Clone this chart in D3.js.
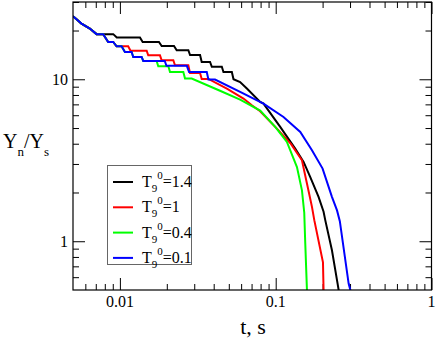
<!DOCTYPE html>
<html><head><meta charset="utf-8">
<script src="https://cdn.jsdelivr.net/npm/d3@7"></script>
<style>body{margin:0;background:#fff}svg{display:block}</style>
</head><body><svg id="c" width="436" height="340"></svg>
<script>
// ---- data ----
const xMajorTicks = [0.01, 0.1, 1];
const xTickLabels = ["0.01", "0.1", "1"];
const xMinorTicks = [0.006,0.007,0.008,0.009,0.02,0.03,0.04,0.05,0.06,0.07,0.08,0.09,0.2,0.3,0.4,0.5,0.6,0.7,0.8,0.9];
const yMajorTicks = [1, 10];
const yTickLabels = ["1", "10"];
const yMinorTicks = [0.6,0.7,0.8,0.9,2,3,4,5,6,7,8,9,20,30];
const seriesNames = ["1.4", "1", "0.4", "0.1"];
const seriesColors = ["#000000", "#ff0000", "#00ff00", "#0000ff"];

const serT14 = [[0.005,24.5],[0.00567,22.07],[0.00641,20.56],[0.00708,19.0],[0.00906,19.0],[0.00955,18.09],[0.01345,18.09],[0.0140,16.99],[0.01781,16.99],[0.01854,16.05],[0.02224,16.05],[0.02315,15.1],[0.0275,15.1],[0.0282,14.1],[0.0327,14.1],[0.0335,12.8],[0.0379,12.8],[0.0389,11.95],[0.0451,11.95],[0.0462,11.1],[0.0523,11.1],[0.0536,10.0],[0.0591,9.62],[0.0653,8.76],[0.0795,7.24],[0.0835,7.08],[0.1069,5.08],[0.1334,3.73],[0.151,3.09],[0.1667,2.49],[0.1884,1.88],[0.2029,1.52],[0.208,1.35],[0.2296,0.88],[0.2496,0.548],[0.2535,0.5],[0.256,0.47]];
const serT10 = [[0.005,24.5],[0.00567,22.07],[0.00641,20.56],[0.00708,19.0],[0.00781,19.0],[0.00841,16.99],[0.00906,16.99],[0.00952,15.98],[0.0113,15.98],[0.0117,15.0],[0.01485,15.0],[0.0152,14.06],[0.01808,14.06],[0.01854,13.1],[0.02202,13.1],[0.02258,12.2],[0.02749,12.2],[0.02818,10.95],[0.03269,10.95],[0.0335,10.05],[0.03697,10.05],[0.0486,8.76],[0.0621,7.6],[0.0703,6.91],[0.0795,6.35],[0.1018,4.96],[0.1255,3.98],[0.1474,3.16],[0.1587,2.27],[0.1709,1.63],[0.1769,1.35],[0.2011,0.74],[0.2029,0.5],[0.203,0.45]];
const serT04 = [[0.005,24.5],[0.00567,22.07],[0.00641,20.56],[0.00708,19.0],[0.00781,19.0],[0.00841,16.99],[0.00906,16.99],[0.00952,15.98],[0.01025,15.98],[0.01077,14.74],[0.01189,14.74],[0.01218,13.73],[0.01379,13.73],[0.01412,12.97],[0.0172,12.97],[0.01763,12.03],[0.02046,12.03],[0.02097,11.09],[0.02553,11.09],[0.02618,10.1],[0.0289,10.1],[0.0439,8.5],[0.0591,7.49],[0.0795,6.4],[0.0993,5.08],[0.118,4.1],[0.1369,2.87],[0.1474,2.06],[0.1525,1.5],[0.1548,0.97],[0.1587,0.5],[0.159,0.45]];
const serT01 = [[0.005,24.5],[0.00567,22.07],[0.00641,20.56],[0.00708,19.0],[0.00781,19.0],[0.00841,16.99],[0.00906,16.99],[0.00952,15.98],[0.01025,15.98],[0.01077,14.74],[0.01189,14.74],[0.01218,13.73],[0.01379,13.73],[0.01412,12.97],[0.0194,12.97],[0.0199,12.1],[0.0269,12.1],[0.0278,11.09],[0.0361,11.09],[0.037,9.96],[0.0408,9.96],[0.0591,8.35],[0.0835,7.08],[0.1122,5.85],[0.1438,4.73],[0.1709,3.65],[0.2,2.81],[0.2296,1.88],[0.2475,1.55],[0.258,1.33],[0.2939,0.548],[0.3013,0.5],[0.303,0.47]];
const allSeries = [serT14, serT10, serT04, serT01];

// ---- layout ----
const L = 73, R = 431.5, T = 2, B = 290;
const font = "'Liberation Serif'";
const svg = d3.select("#c");
const x = d3.scaleLog().domain([0.005, 1]).range([L, R]);
const y = d3.scaleLog().domain([0.5, 30]).range([B, T]);

svg.append("defs").append("clipPath").attr("id","clip")
  .append("rect").attr("x",L).attr("y",T).attr("width",R-L).attr("height",B-T);

function addAxis(axis, tx, ty) {
  const g = svg.append("g").attr("transform", `translate(${tx},${ty})`).call(axis);
  g.select(".domain").remove();
  g.selectAll("line").attr("stroke","#000").attr("stroke-width",1);
  g.selectAll("text").remove();
}
addAxis(d3.axisBottom(x).tickValues(xMajorTicks).tickSize(-12).tickSizeOuter(0), 0, B);
addAxis(d3.axisBottom(x).tickValues(xMinorTicks).tickSize(-6).tickSizeOuter(0), 0, B);
addAxis(d3.axisTop(x).tickValues(xMajorTicks).tickSize(-12).tickSizeOuter(0), 0, T);
addAxis(d3.axisTop(x).tickValues(xMinorTicks).tickSize(-6).tickSizeOuter(0), 0, T);
addAxis(d3.axisLeft(y).tickValues(yMajorTicks).tickSize(-12).tickSizeOuter(0), L, 0);
addAxis(d3.axisLeft(y).tickValues(yMinorTicks).tickSize(-6).tickSizeOuter(0), L, 0);
addAxis(d3.axisRight(y).tickValues(yMajorTicks).tickSize(-12).tickSizeOuter(0), R, 0);
addAxis(d3.axisRight(y).tickValues(yMinorTicks).tickSize(-6).tickSizeOuter(0), R, 0);

svg.append("g").selectAll("text").data(xMajorTicks).join("text")
  .attr("x", d => x(d)).attr("y", 307).attr("text-anchor","middle")
  .style("font-family", font).attr("font-size", 16).text((d,i) => xTickLabels[i]);
svg.append("g").selectAll("text").data(yMajorTicks).join("text")
  .attr("x", 68).attr("y", d => y(d) + 5.5).attr("text-anchor","end")
  .style("font-family", font).attr("font-size", 16).text((d,i) => yTickLabels[i]);

const line = d3.line().x(d => x(d[0])).y(d => y(d[1]));
svg.append("g").attr("clip-path","url(#clip)").selectAll("path").data(allSeries).join("path")
  .attr("d", line).attr("fill","none")
  .attr("stroke", (d,i) => seriesColors[i]).attr("stroke-width", 2)
  .attr("stroke-linejoin","miter");

svg.append("rect").attr("x",L).attr("y",T).attr("width",R-L).attr("height",B-T)
  .attr("fill","none").attr("stroke","#000").attr("stroke-width",1.2);

svg.append("text").attr("x", 253).attr("y", 334).attr("text-anchor","middle")
  .style("font-family", font).attr("font-size", 22).text("t, s");
const yl = svg.append("text").attr("x", 3).attr("y", 148).style("font-family", font).attr("font-size", 20);
yl.append("tspan").text("Y");
yl.append("tspan").attr("font-size", 13).attr("dy", 8).text("n");
yl.append("tspan").attr("dy", -8).text("/Y");
yl.append("tspan").attr("font-size", 13).attr("dy", 8).text("s");

const lg = svg.append("g");
lg.append("rect").attr("x",107.5).attr("y",165.5).attr("width",84).attr("height",99)
  .attr("fill","#fff").attr("stroke","#666").attr("stroke-width",1);
seriesNames.forEach((name, i) => {
  const yy = 182 + i * 25.3;
  lg.append("line").attr("x1",113).attr("x2",133).attr("y1",yy).attr("y2",yy)
    .attr("stroke", seriesColors[i]).attr("stroke-width", 2);
  const t = lg.append("text").attr("x",142).attr("y",yy+5).style("font-family",font).attr("font-size",16);
  t.append("tspan").text("T");
  t.append("tspan").attr("font-size",11).attr("dy",5).text("9");
  t.append("tspan").attr("font-size",11).attr("dy",-13).text("0");
  t.append("tspan").attr("dy",8).text("=" + name);
});
</script></body></html>
